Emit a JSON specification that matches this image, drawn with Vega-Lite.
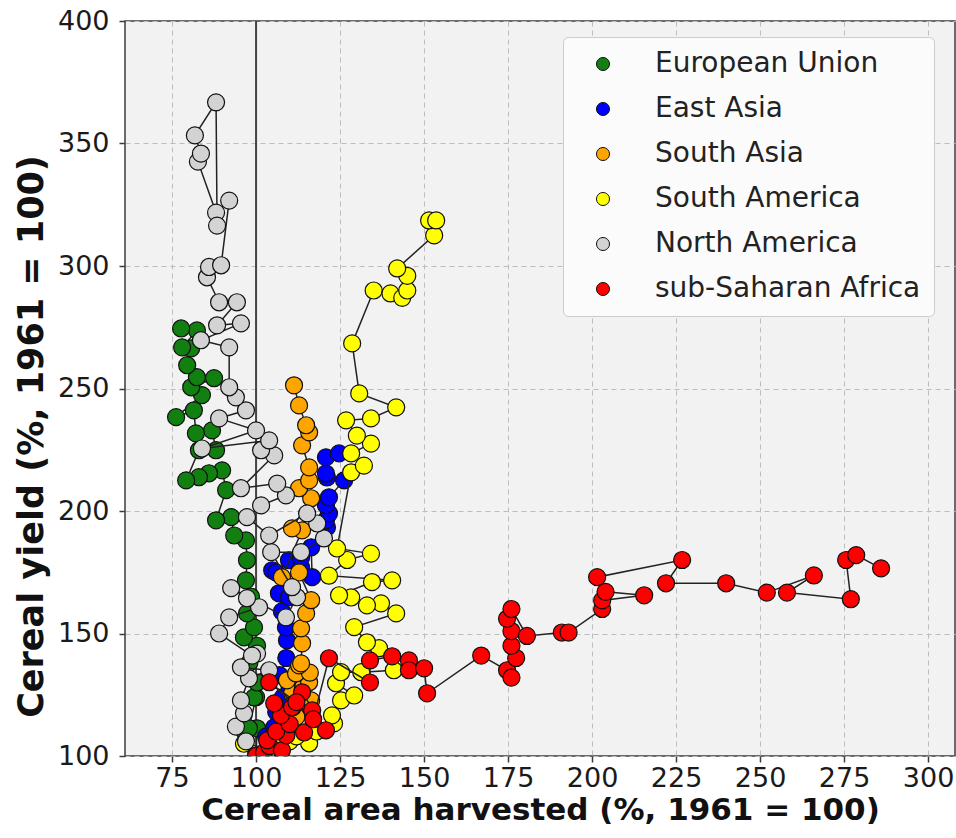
{
"$schema": "https://vega.github.io/schema/vega-lite/v6.json",
"width": 830, "height": 735,
"autosize": {"type": "none"},
"padding": {"left": 125, "top": 21, "right": 1, "bottom": 82},
"config": {
 "view": {"fill": "#f2f2f2", "stroke": "#3c3c3c", "strokeWidth": 1.5},
 "font": "DejaVu Sans",
 "axis": {"labelFont": "DejaVu Sans", "labelFontSize": 27, "labelColor": "#1a1a1a", "titleFont": "DejaVu Sans", "titleFontWeight": "bold", "titleColor": "#111111", "grid": true, "gridColor": "#bcbcbc", "gridDash": [5, 4], "gridWidth": 1, "domain": false, "tickColor": "#3c3c3c", "tickSize": 6, "tickWidth": 1.5}
},
"datasets": {
 "v": [{"x": 100}],
 "pts": [
{"g":"European Union","t":1,"x":100,"y":100},{"g":"European Union","t":2,"x":100.3,"y":111.3},{"g":"European Union","t":3,"x":96.4,"y":110.4},{"g":"European Union","t":4,"x":97.9,"y":111.3},{"g":"European Union","t":5,"x":100,"y":124},{"g":"European Union","t":6,"x":99.4,"y":123.9},{"g":"European Union","t":7,"x":100.3,"y":130},{"g":"European Union","t":8,"x":98,"y":138},{"g":"European Union","t":9,"x":100.3,"y":145},{"g":"European Union","t":10,"x":96.4,"y":148.4},{"g":"European Union","t":11,"x":99.4,"y":152.5},{"g":"European Union","t":12,"x":97.3,"y":158.2},{"g":"European Union","t":13,"x":98.5,"y":165},{"g":"European Union","t":14,"x":97,"y":171.7},{"g":"European Union","t":15,"x":97.3,"y":179.9},{"g":"European Union","t":16,"x":97,"y":188},{"g":"European Union","t":17,"x":93.5,"y":190},{"g":"European Union","t":18,"x":92.6,"y":197.5},{"g":"European Union","t":19,"x":88.1,"y":196.2},{"g":"European Union","t":20,"x":91.1,"y":208.5},{"g":"European Union","t":21,"x":89.9,"y":216.6},{"g":"European Union","t":22,"x":86,"y":215.4},{"g":"European Union","t":23,"x":83,"y":213.8},{"g":"European Union","t":24,"x":79.2,"y":212.5},{"g":"European Union","t":25,"x":83,"y":224.8},{"g":"European Union","t":26,"x":88.1,"y":224.8},{"g":"European Union","t":27,"x":86.9,"y":232.9},{"g":"European Union","t":28,"x":82.1,"y":231.7},{"g":"European Union","t":29,"x":81.5,"y":241.1},{"g":"European Union","t":30,"x":76.2,"y":238.3},{"g":"European Union","t":31,"x":83.9,"y":247.3},{"g":"European Union","t":32,"x":80.7,"y":250.5},{"g":"European Union","t":33,"x":87.5,"y":254.2},{"g":"European Union","t":34,"x":82.4,"y":254.6},{"g":"European Union","t":35,"x":79.5,"y":259.5},{"g":"European Union","t":36,"x":80.7,"y":266.4},{"g":"European Union","t":37,"x":78,"y":266.8},{"g":"European Union","t":38,"x":82.4,"y":273.7},{"g":"European Union","t":39,"x":77.7,"y":274.5},
{"g":"East Asia","t":1,"x":100,"y":100},{"g":"East Asia","t":2,"x":103,"y":108},{"g":"East Asia","t":3,"x":105.4,"y":111.7},{"g":"East Asia","t":4,"x":106,"y":118},{"g":"East Asia","t":5,"x":108,"y":124},{"g":"East Asia","t":6,"x":110,"y":128},{"g":"East Asia","t":7,"x":107,"y":133},{"g":"East Asia","t":8,"x":109,"y":140},{"g":"East Asia","t":9,"x":109.2,"y":147.2},{"g":"East Asia","t":10,"x":108.9,"y":152.5},{"g":"East Asia","t":11,"x":107.7,"y":159},{"g":"East Asia","t":12,"x":106.8,"y":166.4},{"g":"East Asia","t":13,"x":109.8,"y":164.8},{"g":"East Asia","t":14,"x":104.8,"y":175.8},{"g":"East Asia","t":15,"x":106,"y":174.9},{"g":"East Asia","t":16,"x":109.8,"y":179.9},{"g":"East Asia","t":17,"x":113.4,"y":177},{"g":"East Asia","t":18,"x":113.4,"y":181},{"g":"East Asia","t":19,"x":116.7,"y":173},{"g":"East Asia","t":20,"x":116.4,"y":185.2},{"g":"East Asia","t":21,"x":121.1,"y":193.3},{"g":"East Asia","t":22,"x":120.8,"y":196.2},{"g":"East Asia","t":23,"x":121.7,"y":199},{"g":"East Asia","t":24,"x":120.8,"y":202.4},{"g":"East Asia","t":25,"x":121.7,"y":205.6},{"g":"East Asia","t":26,"x":126.2,"y":212.5},{"g":"East Asia","t":27,"x":121.1,"y":213.7},{"g":"East Asia","t":28,"x":120.8,"y":215.3},{"g":"East Asia","t":29,"x":120.8,"y":221.9},{"g":"East Asia","t":30,"x":124.7,"y":223.5},
{"g":"South Asia","t":1,"x":100,"y":100},{"g":"South Asia","t":2,"x":104,"y":103},{"g":"South Asia","t":3,"x":107,"y":106},{"g":"South Asia","t":4,"x":109,"y":112},{"g":"South Asia","t":5,"x":112,"y":116},{"g":"South Asia","t":6,"x":111,"y":120},{"g":"South Asia","t":7,"x":110.7,"y":125.6},{"g":"South Asia","t":8,"x":116.4,"y":122.7},{"g":"South Asia","t":9,"x":114,"y":128},{"g":"South Asia","t":10,"x":109.2,"y":130.9},{"g":"South Asia","t":11,"x":115.8,"y":130.1},{"g":"South Asia","t":12,"x":111.9,"y":133.7},{"g":"South Asia","t":13,"x":116,"y":134},{"g":"South Asia","t":14,"x":112.8,"y":137},{"g":"South Asia","t":15,"x":113.4,"y":137.8},{"g":"South Asia","t":16,"x":113.7,"y":146},{"g":"South Asia","t":17,"x":113.4,"y":152.1},{"g":"South Asia","t":18,"x":114.9,"y":158.2},{"g":"South Asia","t":19,"x":116.4,"y":163.6},{"g":"South Asia","t":20,"x":112.8,"y":174.9},{"g":"South Asia","t":21,"x":107.7,"y":173},{"g":"South Asia","t":22,"x":113.7,"y":192.1},{"g":"South Asia","t":23,"x":110.7,"y":192.9},{"g":"South Asia","t":24,"x":116.4,"y":205.2},{"g":"South Asia","t":25,"x":112.8,"y":209.3},{"g":"South Asia","t":26,"x":115.8,"y":212.5},{"g":"South Asia","t":27,"x":115.8,"y":217.8},{"g":"South Asia","t":28,"x":113.7,"y":226.8},{"g":"South Asia","t":29,"x":115.8,"y":232.1},{"g":"South Asia","t":30,"x":114.9,"y":235},{"g":"South Asia","t":31,"x":112.8,"y":243.1},{"g":"South Asia","t":32,"x":111.3,"y":251.3},
{"g":"South America","t":1,"x":100,"y":100},{"g":"South America","t":2,"x":96.4,"y":105},{"g":"South America","t":3,"x":104,"y":103},{"g":"South America","t":4,"x":110,"y":106},{"g":"South America","t":5,"x":115.8,"y":105.2},{"g":"South America","t":6,"x":112,"y":108},{"g":"South America","t":7,"x":118,"y":110},{"g":"South America","t":8,"x":123.2,"y":113.3},{"g":"South America","t":9,"x":122.6,"y":116.6},{"g":"South America","t":10,"x":125.3,"y":122.7},{"g":"South America","t":11,"x":129.2,"y":124.7},{"g":"South America","t":12,"x":123.8,"y":129.7},{"g":"South America","t":13,"x":125.3,"y":134.2},{"g":"South America","t":14,"x":131.3,"y":134.2},{"g":"South America","t":15,"x":141,"y":135},{"g":"South America","t":16,"x":136.6,"y":144},{"g":"South America","t":17,"x":133,"y":146.4},{"g":"South America","t":18,"x":129.2,"y":152.6},{"g":"South America","t":19,"x":141.7,"y":158.2},{"g":"South America","t":20,"x":137.2,"y":162.3},{"g":"South America","t":21,"x":133,"y":161.5},{"g":"South America","t":22,"x":128.3,"y":164.7},{"g":"South America","t":23,"x":124.7,"y":165.6},{"g":"South America","t":24,"x":134.5,"y":171},{"g":"South America","t":25,"x":140.5,"y":171.7},{"g":"South America","t":26,"x":121.7,"y":173.6},{"g":"South America","t":27,"x":127.1,"y":180},{"g":"South America","t":28,"x":134.2,"y":182.6},{"g":"South America","t":29,"x":124.1,"y":184.7},{"g":"South America","t":30,"x":128.3,"y":215.8},{"g":"South America","t":31,"x":132.1,"y":218.5},{"g":"South America","t":32,"x":128.3,"y":223.5},{"g":"South America","t":33,"x":134.2,"y":227.5},{"g":"South America","t":34,"x":130,"y":230.8},{"g":"South America","t":35,"x":126.8,"y":237},{"g":"South America","t":36,"x":134.2,"y":237.8},{"g":"South America","t":37,"x":141.7,"y":242.3},{"g":"South America","t":38,"x":130.7,"y":248},{"g":"South America","t":39,"x":128.6,"y":268.4},{"g":"South America","t":40,"x":135,"y":290},{"g":"South America","t":41,"x":140,"y":288.8},{"g":"South America","t":42,"x":143.5,"y":287},{"g":"South America","t":43,"x":145,"y":290},{"g":"South America","t":44,"x":145,"y":296},{"g":"South America","t":45,"x":142,"y":299},{"g":"South America","t":46,"x":153,"y":312.5},{"g":"South America","t":47,"x":151.5,"y":318.6},{"g":"South America","t":48,"x":153.6,"y":318.6},
{"g":"North America","t":1,"x":100,"y":100},{"g":"North America","t":2,"x":97,"y":106},{"g":"North America","t":3,"x":94,"y":112},{"g":"North America","t":4,"x":96.4,"y":117.4},{"g":"North America","t":5,"x":95.5,"y":122.7},{"g":"North America","t":6,"x":97.9,"y":131.7},{"g":"North America","t":7,"x":103.9,"y":135},{"g":"North America","t":8,"x":95.5,"y":136.2},{"g":"North America","t":9,"x":100.3,"y":141.8},{"g":"North America","t":10,"x":98.8,"y":141},{"g":"North America","t":11,"x":89,"y":150},{"g":"North America","t":12,"x":92,"y":156.6},{"g":"North America","t":13,"x":100.9,"y":160.7},{"g":"North America","t":14,"x":97.3,"y":164.4},{"g":"North America","t":15,"x":92.6,"y":168.5},{"g":"North America","t":16,"x":108.9,"y":156.6},{"g":"North America","t":17,"x":112.2,"y":164.8},{"g":"North America","t":18,"x":110.7,"y":168.9},{"g":"North America","t":19,"x":104.5,"y":183.2},{"g":"North America","t":20,"x":113.4,"y":183.2},{"g":"North America","t":21,"x":120.2,"y":188.8},{"g":"North America","t":22,"x":118.2,"y":194.9},{"g":"North America","t":23,"x":115.2,"y":199},{"g":"North America","t":24,"x":103.9,"y":190},{"g":"North America","t":25,"x":97.3,"y":197.5},{"g":"North America","t":26,"x":101.5,"y":202.3},{"g":"North America","t":27,"x":108.9,"y":206.4},{"g":"North America","t":28,"x":106.3,"y":211.2},{"g":"North America","t":29,"x":95.5,"y":209.3},{"g":"North America","t":30,"x":105.4,"y":222.7},{"g":"North America","t":31,"x":101.5,"y":224.8},{"g":"North America","t":32,"x":103.9,"y":228.8},{"g":"North America","t":33,"x":83.9,"y":225.5},{"g":"North America","t":34,"x":100,"y":232.9},{"g":"North America","t":35,"x":89,"y":237.8},{"g":"North America","t":36,"x":97,"y":241.1},{"g":"North America","t":37,"x":94,"y":246.4},{"g":"North America","t":38,"x":92,"y":250.5},{"g":"North America","t":39,"x":92,"y":266.8},{"g":"North America","t":40,"x":83.6,"y":269.7},{"g":"North America","t":41,"x":95.5,"y":276.6},{"g":"North America","t":42,"x":88.4,"y":275.8},{"g":"North America","t":43,"x":94.3,"y":285.2},{"g":"North America","t":44,"x":89,"y":285.2},{"g":"North America","t":45,"x":85.4,"y":295.4},{"g":"North America","t":46,"x":86,"y":299.6},{"g":"North America","t":47,"x":89.6,"y":300.3},{"g":"North America","t":48,"x":92,"y":326.7},{"g":"North America","t":49,"x":88.1,"y":321.8},{"g":"North America","t":50,"x":82.7,"y":342.6},{"g":"North America","t":51,"x":83.6,"y":345.9},{"g":"North America","t":52,"x":81.8,"y":353.3},{"g":"North America","t":53,"x":88.1,"y":366.8},{"g":"North America","t":54,"x":88.4,"y":316.5},
{"g":"sub-Saharan Africa","t":1,"x":100,"y":100},{"g":"sub-Saharan Africa","t":2,"x":102.4,"y":101.5},{"g":"sub-Saharan Africa","t":3,"x":104,"y":104},{"g":"sub-Saharan Africa","t":4,"x":107.7,"y":102.3},{"g":"sub-Saharan Africa","t":5,"x":103.3,"y":106.4},{"g":"sub-Saharan Africa","t":6,"x":109,"y":108.4},{"g":"sub-Saharan Africa","t":7,"x":106,"y":110},{"g":"sub-Saharan Africa","t":8,"x":114.3,"y":109.6},{"g":"sub-Saharan Africa","t":9,"x":110,"y":113},{"g":"sub-Saharan Africa","t":10,"x":107.4,"y":116.6},{"g":"sub-Saharan Africa","t":11,"x":110.7,"y":119.9},{"g":"sub-Saharan Africa","t":12,"x":116.7,"y":118.6},{"g":"sub-Saharan Africa","t":13,"x":105.4,"y":121.5},{"g":"sub-Saharan Africa","t":14,"x":113.7,"y":126},{"g":"sub-Saharan Africa","t":15,"x":120.8,"y":110.5},{"g":"sub-Saharan Africa","t":16,"x":112,"y":122},{"g":"sub-Saharan Africa","t":17,"x":103.9,"y":130.1},{"g":"sub-Saharan Africa","t":18,"x":117,"y":115},{"g":"sub-Saharan Africa","t":19,"x":121.7,"y":139.9},{"g":"sub-Saharan Africa","t":20,"x":133.9,"y":130},{"g":"sub-Saharan Africa","t":21,"x":133.9,"y":139},{"g":"sub-Saharan Africa","t":22,"x":140.5,"y":140.7},{"g":"sub-Saharan Africa","t":23,"x":145.5,"y":139},{"g":"sub-Saharan Africa","t":24,"x":145.5,"y":135},{"g":"sub-Saharan Africa","t":25,"x":150,"y":135.8},{"g":"sub-Saharan Africa","t":26,"x":150.9,"y":125.6},{"g":"sub-Saharan Africa","t":27,"x":167,"y":141},{"g":"sub-Saharan Africa","t":28,"x":174.7,"y":135},{"g":"sub-Saharan Africa","t":29,"x":176,"y":132},{"g":"sub-Saharan Africa","t":30,"x":177.4,"y":140},{"g":"sub-Saharan Africa","t":31,"x":176,"y":145},{"g":"sub-Saharan Africa","t":32,"x":176,"y":151},{"g":"sub-Saharan Africa","t":33,"x":174.7,"y":156},{"g":"sub-Saharan Africa","t":34,"x":176,"y":160},{"g":"sub-Saharan Africa","t":35,"x":180.6,"y":149},{"g":"sub-Saharan Africa","t":36,"x":191,"y":150.4},{"g":"sub-Saharan Africa","t":37,"x":193,"y":150.4},{"g":"sub-Saharan Africa","t":38,"x":203,"y":160},{"g":"sub-Saharan Africa","t":39,"x":203,"y":163.5},{"g":"sub-Saharan Africa","t":40,"x":215.5,"y":165.6},{"g":"sub-Saharan Africa","t":41,"x":204,"y":167},{"g":"sub-Saharan Africa","t":42,"x":201.5,"y":173},{"g":"sub-Saharan Africa","t":43,"x":226.8,"y":180},{"g":"sub-Saharan Africa","t":44,"x":222,"y":170.5},{"g":"sub-Saharan Africa","t":45,"x":239.9,"y":170.5},{"g":"sub-Saharan Africa","t":46,"x":252,"y":166.7},{"g":"sub-Saharan Africa","t":47,"x":266,"y":173.7},{"g":"sub-Saharan Africa","t":48,"x":258,"y":166.7},{"g":"sub-Saharan Africa","t":49,"x":277,"y":164},{"g":"sub-Saharan Africa","t":50,"x":275.6,"y":180},{"g":"sub-Saharan Africa","t":51,"x":278.6,"y":182},{"g":"sub-Saharan Africa","t":52,"x":286,"y":176.6}
 ]
},
"layer": [
 {"data": {"name": "v"}, "mark": {"type": "rule", "color": "#444444", "strokeWidth": 2},
  "encoding": {"x": {"field": "x", "type": "quantitative", "scale": {"domain": [61, 308], "nice": false, "zero": false},
   "axis": {"values": [75, 100, 125, 150, 175, 200, 225, 250, 275, 300], "labelPadding": 3, "title": "Cereal area harvested (%, 1961 = 100)", "titleFontSize": 31, "titlePadding": 4}}}},
 {"data": {"name": "pts"}, "transform": [{"filter": "datum.g === 'European Union'"}], "mark": {"type": "line", "color": "#222222", "strokeWidth": 1.5, "clip": true},
  "encoding": {"x": {"field": "x", "type": "quantitative", "scale": {"domain": [61, 308], "nice": false, "zero": false}}, "y": {"field": "y", "type": "quantitative", "scale": {"domain": [100, 400], "nice": false, "zero": false}, "axis": {"values": [100, 150, 200, 250, 300, 350, 400], "labelPadding": 10, "title": "Cereal yield (%, 1961 = 100)", "titleFontSize": 35, "titlePadding": 8, "titleY": 415}}, "order": {"field": "t", "type": "quantitative"}}},
 {"data": {"name": "pts"}, "transform": [{"filter": "datum.g === 'European Union'"}], "mark": {"type": "point", "filled": true, "stroke": "#111111", "strokeWidth": 1.2, "opacity": 1, "size": 290, "clip": true},
  "encoding": {"x": {"field": "x", "type": "quantitative", "scale": {"domain": [61, 308], "nice": false, "zero": false}}, "y": {"field": "y", "type": "quantitative", "scale": {"domain": [100, 400], "nice": false, "zero": false}},
   "color": {"field": "g", "type": "nominal", "scale": {"domain": ["European Union", "East Asia", "South Asia", "South America", "North America", "sub-Saharan Africa"], "range": ["#118011", "#0000ff", "#ffa500", "#ffff00", "#d3d3d3", "#ff0000"]},
    "legend": {"orient": "none", "legendX": 438, "legendY": 16, "title": null, "labelFontSize": 28, "labelFont": "DejaVu Sans", "labelColor": "#222222", "labelLimit": 500, "symbolSize": 170, "symbolType": "circle", "symbolStrokeWidth": 1, "symbolStrokeColor": "#333333", "symbolOpacity": 1, "rowPadding": 17, "padding": 13, "symbolOffset": 13, "labelOffset": 38, "fillColor": "#fbfbfb", "strokeColor": "#cccccc", "cornerRadius": 5}}}},
 {"data": {"name": "pts"}, "transform": [{"filter": "datum.g === 'East Asia'"}], "mark": {"type": "line", "color": "#222222", "strokeWidth": 1.5, "clip": true},
  "encoding": {"x": {"field": "x", "type": "quantitative", "scale": {"domain": [61, 308], "nice": false, "zero": false}}, "y": {"field": "y", "type": "quantitative", "scale": {"domain": [100, 400], "nice": false, "zero": false}}, "order": {"field": "t", "type": "quantitative"}}},
 {"data": {"name": "pts"}, "transform": [{"filter": "datum.g === 'East Asia'"}], "mark": {"type": "point", "filled": true, "stroke": "#111111", "strokeWidth": 1.2, "opacity": 1, "size": 290, "clip": true},
  "encoding": {"x": {"field": "x", "type": "quantitative", "scale": {"domain": [61, 308], "nice": false, "zero": false}}, "y": {"field": "y", "type": "quantitative", "scale": {"domain": [100, 400], "nice": false, "zero": false}}, "color": {"field": "g", "type": "nominal"}}},
 {"data": {"name": "pts"}, "transform": [{"filter": "datum.g === 'South Asia'"}], "mark": {"type": "line", "color": "#222222", "strokeWidth": 1.5, "clip": true},
  "encoding": {"x": {"field": "x", "type": "quantitative", "scale": {"domain": [61, 308], "nice": false, "zero": false}}, "y": {"field": "y", "type": "quantitative", "scale": {"domain": [100, 400], "nice": false, "zero": false}}, "order": {"field": "t", "type": "quantitative"}}},
 {"data": {"name": "pts"}, "transform": [{"filter": "datum.g === 'South Asia'"}], "mark": {"type": "point", "filled": true, "stroke": "#111111", "strokeWidth": 1.2, "opacity": 1, "size": 290, "clip": true},
  "encoding": {"x": {"field": "x", "type": "quantitative", "scale": {"domain": [61, 308], "nice": false, "zero": false}}, "y": {"field": "y", "type": "quantitative", "scale": {"domain": [100, 400], "nice": false, "zero": false}}, "color": {"field": "g", "type": "nominal"}}},
 {"data": {"name": "pts"}, "transform": [{"filter": "datum.g === 'South America'"}], "mark": {"type": "line", "color": "#222222", "strokeWidth": 1.5, "clip": true},
  "encoding": {"x": {"field": "x", "type": "quantitative", "scale": {"domain": [61, 308], "nice": false, "zero": false}}, "y": {"field": "y", "type": "quantitative", "scale": {"domain": [100, 400], "nice": false, "zero": false}}, "order": {"field": "t", "type": "quantitative"}}},
 {"data": {"name": "pts"}, "transform": [{"filter": "datum.g === 'South America'"}], "mark": {"type": "point", "filled": true, "stroke": "#111111", "strokeWidth": 1.2, "opacity": 1, "size": 290, "clip": true},
  "encoding": {"x": {"field": "x", "type": "quantitative", "scale": {"domain": [61, 308], "nice": false, "zero": false}}, "y": {"field": "y", "type": "quantitative", "scale": {"domain": [100, 400], "nice": false, "zero": false}}, "color": {"field": "g", "type": "nominal"}}},
 {"data": {"name": "pts"}, "transform": [{"filter": "datum.g === 'North America'"}], "mark": {"type": "line", "color": "#222222", "strokeWidth": 1.5, "clip": true},
  "encoding": {"x": {"field": "x", "type": "quantitative", "scale": {"domain": [61, 308], "nice": false, "zero": false}}, "y": {"field": "y", "type": "quantitative", "scale": {"domain": [100, 400], "nice": false, "zero": false}}, "order": {"field": "t", "type": "quantitative"}}},
 {"data": {"name": "pts"}, "transform": [{"filter": "datum.g === 'North America'"}], "mark": {"type": "point", "filled": true, "stroke": "#111111", "strokeWidth": 1.2, "opacity": 1, "size": 290, "clip": true},
  "encoding": {"x": {"field": "x", "type": "quantitative", "scale": {"domain": [61, 308], "nice": false, "zero": false}}, "y": {"field": "y", "type": "quantitative", "scale": {"domain": [100, 400], "nice": false, "zero": false}}, "color": {"field": "g", "type": "nominal"}}},
 {"data": {"name": "pts"}, "transform": [{"filter": "datum.g === 'sub-Saharan Africa'"}], "mark": {"type": "line", "color": "#222222", "strokeWidth": 1.5, "clip": true},
  "encoding": {"x": {"field": "x", "type": "quantitative", "scale": {"domain": [61, 308], "nice": false, "zero": false}}, "y": {"field": "y", "type": "quantitative", "scale": {"domain": [100, 400], "nice": false, "zero": false}}, "order": {"field": "t", "type": "quantitative"}}},
 {"data": {"name": "pts"}, "transform": [{"filter": "datum.g === 'sub-Saharan Africa'"}], "mark": {"type": "point", "filled": true, "stroke": "#111111", "strokeWidth": 1.2, "opacity": 1, "size": 290, "clip": true},
  "encoding": {"x": {"field": "x", "type": "quantitative", "scale": {"domain": [61, 308], "nice": false, "zero": false}}, "y": {"field": "y", "type": "quantitative", "scale": {"domain": [100, 400], "nice": false, "zero": false}}, "color": {"field": "g", "type": "nominal"}}}
]
}
